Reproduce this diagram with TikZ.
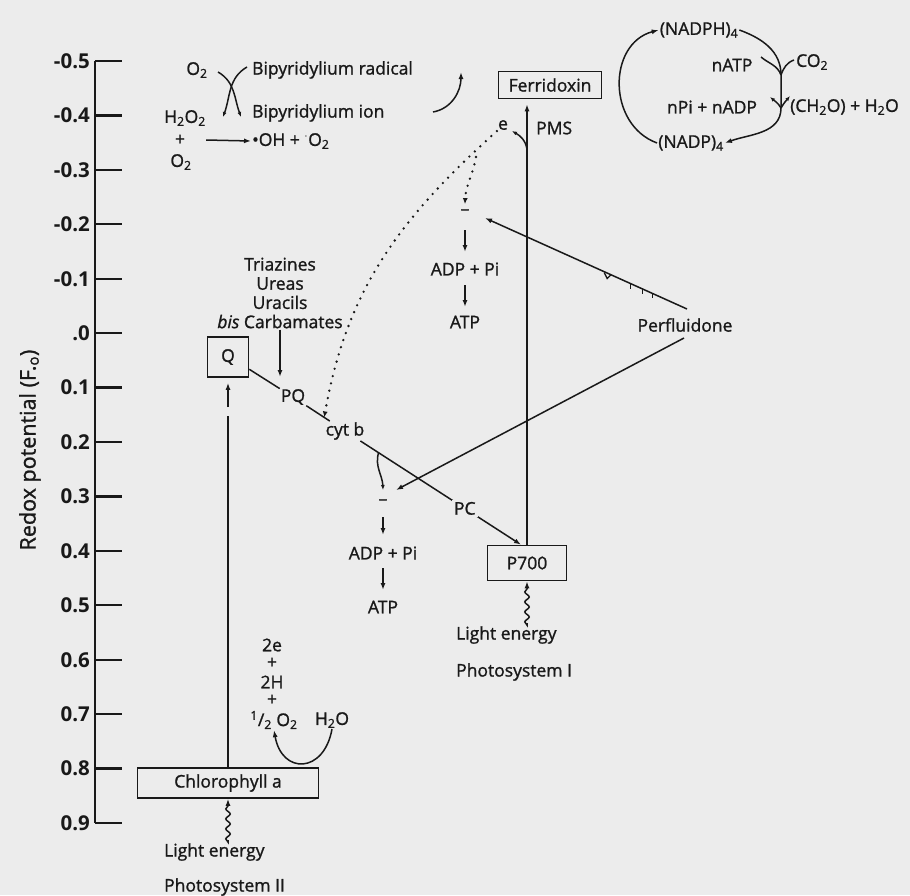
\documentclass[tikz,border=0pt]{standalone}
\usepackage{fontspec}
\setmainfont{Open Sans}[UprightFeatures={FakeBold=1.2},ItalicFeatures={FakeBold=1.2}]
\usetikzlibrary{arrows.meta,decorations.pathmorphing,calc}
\definecolor{bgc}{RGB}{236,236,236}
\definecolor{ink}{RGB}{25,25,25}
\begin{document}
\begin{tikzpicture}[x=1pt,y=-1pt,color=ink,
  lbl/.style={font=\fontsize{17.5}{19}\selectfont, inner sep=1pt},
  ticklbl/.style={font=\fontsize{20.5}{22}\selectfont\bfseries, inner sep=0pt, anchor=east},
  box/.style={draw, line width=1.6pt, inner sep=0pt, font=\fontsize{17.5}{19}\selectfont},
  ln/.style={line width=1.5pt},
  arr/.style={ln, -{Latex[length=7pt,width=5pt]}},
  sarr/.style={ln, -{Latex[length=5pt,width=4pt]}},
  wavy/.style={ln, decorate, decoration={snake, amplitude=2.2pt, segment length=10pt, post length=7pt}},
  dotline/.style={line width=2.6pt, dash pattern=on 0pt off 7.5pt, line cap=round},
  dotarr/.style={dotline, -{Latex[length=6pt,width=5pt]}}
]
\fill[bgc] (0,0) rectangle (910,895);
\useasboundingbox (0,0) rectangle (910,895);

% ---------- axis ----------
\draw[line width=2.3pt] (95,61) -- (95,823);
\foreach \t [count=\i from 0] in {-0.5,-0.4,-0.3,-0.2,-0.1,.0,0.1,0.2,0.3,0.4,0.5,0.6,0.7,0.8,0.9} {
  \draw[line width=2.3pt] (95,{61+\i*54.43}) -- (122,{61+\i*54.43});
  \node[ticklbl] (tk\i) at (90,{61+\i*54.43}) {\t};
}
\node[rotate=90, font=\fontsize{21.5}{23}\selectfont] (title) at (30,450) {Redox potential (F.\textsubscript{o})};

% ---------- bipyridylium ----------
\node[lbl] (o2a) at (197,70) {O\textsubscript{2}};
\node[lbl, anchor=west] (rad) at (251,70) {Bipyridylium radical};
\node[lbl] (h2o2) at (185,118) {H\textsubscript{2}O\textsubscript{2}};
\node[lbl, anchor=west] (ion) at (251,113) {Bipyridylium ion};
\node[lbl] (plus0) at (180,140) {+};
\node[lbl] (o2b) at (181,162) {O\textsubscript{2}};
\node[lbl, anchor=west] (oh) at (251,141) {\textbullet OH + \textsuperscript{$\cdot$}O\textsubscript{2}};
\draw[arr] ([xshift=20pt]plus0.east) -- (oh.west);
\coordinate (xa) at (218,72);
\coordinate (xb) at (241,117);
\coordinate (xc) at (247,67);
\coordinate (xd) at (223,117);
\draw[sarr] (xa) to[out=-30,in=110] (xb);
\draw[sarr] (xc) to[out=210,in=70] (xd);
\coordinate (ra1) at (433,112);
\coordinate (ra2) at (461,72);
\draw[arr] (ra1) to[out=10,in=-90] (ra2);

% ---------- photosystem I ----------
\node[box, minimum width=103pt, minimum height=27pt] (fd) at (550,85) {Ferridoxin};
\node[box, minimum width=79pt, minimum height=35pt] (p700) at (527,563) {P700};
\draw[arr, shorten >=5pt] (p700.north) -- (p700.north |- fd.south);
\node[lbl] (e) at (503,125) {e};
\node[lbl, anchor=west] (pms) at (535,128) {PMS};
\coordinate (pmsb) at (527,149);
\coordinate (etip) at (512,131);
\draw[sarr] (pmsb) to[out=100,in=-30] (etip);
\node[lbl, anchor=west] (le1) at (455,635) {Light energy};
\node[lbl, anchor=west] (ps1) at (455,672) {Photosystem I};
\draw[wavy, arr, shorten <=2pt] (p700.south |- le1.north) -- (p700.south);

% ---------- cyclic path, upper ----------
\node[lbl] (m1) at (465,212) {--};
\node[lbl] (adp1) at (465,269) {ADP + Pi};
\node[lbl] (atp1) at (465,322) {ATP};
\draw[arr, shorten <=18pt, shorten >=17pt] (m1.center) -- (adp1.center);
\draw[arr, shorten <=16pt, shorten >=15pt] (adp1.center) -- (atp1.center);

% ---------- Q, PQ, cyt b ----------
\node[box, minimum width=41pt, minimum height=40pt] (q) at (228,357) {Q};
\node[lbl] (pq) at (293,397) {PQ};
\node[lbl] (cytb) at (345,431) {cyt b};
\draw[ln] (q.-30) -- (pq);
\draw[ln] (pq) -- (cytb);
\coordinate (pqc) at ($(pq)!0.6!(cytb)$);
\node[lbl, align=center, font=\fontsize{17.5}{19.2}\selectfont] (tri) at (280,293) {Triazines\\Ureas\\Uracils\\\textit{bis} Carbamates};
\coordinate (triend) at (280,377);
\draw[arr] (tri.south) -- (triend);

% dotted PMS return
\draw[dotarr] (e.south west) to[out=222,in=80] (pqc);
\coordinate (db) at (476,157);
\draw[dotarr] (db) to[out=-100,in=88] ([yshift=4pt]m1.north);

% cyt b -> P700
\coordinate (p7in) at ($(p700.north)+(-6,0)$);
\draw[arr] (cytb) -- node[lbl, fill=bgc, pos=0.65, inner sep=2pt] (pc) {PC} (p7in);
\coordinate (br) at ($(cytb)!0.19!(p7in)$);
\node[lbl] (m2) at (383,502) {--};
\coordinate (m2top) at (383,490);
\draw[sarr] (br) to[out=-105,in=92] (m2top);
\node[lbl] (adp2) at (383,553) {ADP + Pi};
\node[lbl] (atp2) at (383,607) {ATP};
\draw[arr, shorten <=15pt, shorten >=18pt] (m2.center) -- (adp2.center);
\draw[arr, shorten <=15pt, shorten >=17pt] (adp2.center) -- (atp2.center);

% ---------- Perfluidone ----------
\node[lbl] (perf) at (685,325) {Perfluidone};
\coordinate (pf1) at (687,309);
\coordinate (pf2) at (684,338);
\coordinate (m1r) at (485,218);
\coordinate (m2r) at (396,490);
\draw[arr] (pf1) -- (m1r);
\draw[arr] (pf2) -- (m2r);
\path (pf1) -- (m1r) coordinate[pos=0.39] (tkv) coordinate[pos=0.28] (tka) coordinate[pos=0.22] (tkb) coordinate[pos=0.17] (tkc);
\draw[line width=1.3pt] ($(tkv)+(-4,-1)$) -- ($(tkv)+(-1,5)$) -- ($(tkv)+(3,1)$);
\draw[line width=1.3pt] (tka) -- ++(0,5);
\draw[line width=1.3pt] (tkb) -- ++(0,5);
\draw[line width=1.3pt] (tkc) -- ++(0,4);

% ---------- photosystem II ----------
\node[box, minimum width=181pt, minimum height=30pt] (chl) at (228,783) {Chlorophyll a};
\coordinate (gap1) at (228,416);
\coordinate (gap2) at (228,407);
\draw[ln] (chl.north) -- (gap1);
\draw[arr, shorten >=5pt] (gap2) -- (q.south);
\node[lbl, anchor=west] (le2) at (163,852) {Light energy};
\node[lbl, anchor=west] (ps2) at (163,887) {Photosystem II};
\draw[wavy, arr, shorten <=2pt] (chl.south |- le2.north) -- (chl.south);

% water splitting
\node[lbl] (e2) at (272,645) {2e};
\node[lbl] (pl1) at (272,663) {+};
\node[lbl] (h2) at (272,682) {2H};
\node[lbl] (pl2) at (272,700) {+};
\node[lbl] (half) at (274,720) {\textsuperscript{1}/\textsubscript{2} O\textsubscript{2}};
\node[lbl] (h2o) at (332,720) {H\textsubscript{2}O};
\draw[arr] (h2o.south) to[out=-100,in=-80,looseness=2] (half.south);

% ---------- Calvin cycle ----------
\node[lbl] (nadph) at (699,30) {(NADPH)\textsubscript{4}};
\node[lbl] (natp) at (732,65) {nATP};
\node[lbl, anchor=west] (co2) at (795,62) {CO\textsubscript{2}};
\node[lbl] (npi) at (712,107) {nPi + nADP};
\node[lbl, anchor=west] (ch2o) at (789,107) {(CH\textsubscript{2}O) + H\textsubscript{2}O};
\node[lbl] (nadp) at (691,143) {(NADP)\textsubscript{4}};
\draw[arr] (nadp.west) to[out=160,in=195,looseness=1.2] (nadph.west);
\coordinate (crt) at (781,75);
\coordinate (crb) at (781,108);
\draw[arr] (nadph.east) to[out=-20,in=90] (crt) -- (crb) to[out=-90,in=20] (nadp.east);
\coordinate (ca1) at (761,57);
\coordinate (ca2) at (794,60);
\draw[ln] (ca1) to[out=-40,in=110] (crt);
\draw[ln] (ca2) to[out=200,in=70] (crt);
\coordinate (co1) at (770,97);
\coordinate (co3) at (790,96);
\draw[sarr] (crb) to[out=120,in=-40] (co1);
\draw[sarr] (crb) to[out=60,in=-130] (co3);
\end{tikzpicture}
\end{document}
